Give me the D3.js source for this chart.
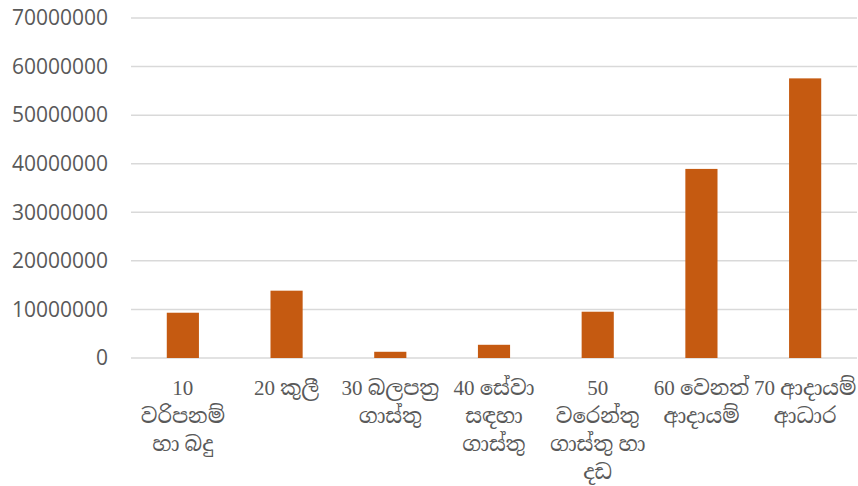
<!DOCTYPE html>
<html>
<head>
<meta charset="utf-8">
<script src="https://cdn.jsdelivr.net/npm/d3@7"></script>
<style>
    body { margin: 0; background: #fff; }
</style>
</head>
<body>
<svg id="chart" width="858" height="486"></svg>
<script>
// category labels, one entry per wrapped line
const categories = ['c10', 'c20', 'c30', 'c40', 'c50', 'c60', 'c70'];
const categoryLines = [
    ['10', 'වරිපනම්', 'හා බදු'],
    ['20 කුලී'],
    ['30 බලපත්‍ර', 'ගාස්තු'],
    ['40 සේවා', 'සඳහා', 'ගාස්තු'],
    ['50', 'වරෙන්තු', 'ගාස්තු හා', 'දඩ'],
    ['60 වෙනත්', 'ආදායම්'],
    ['70 ආදායම්', 'ආධාර']
];
const values = [9320000, 13860000, 1280000, 2720000, 9530000, 38930000, 57570000];
const yTicks = [0, 10000000, 20000000, 30000000, 40000000, 50000000, 60000000, 70000000];

const margin = { top: 18, right: 1, bottom: 128, left: 131 };
const width = 858 - margin.left - margin.right;
const height = 486 - margin.top - margin.bottom;

const svg = d3.select('#chart')
    .append('g')
    .attr('transform', 'translate(' + margin.left + ',' + margin.top + ')');

const x = d3.scaleBand()
    .domain(categories)
    .range([0, width])
    .paddingInner(0.69)
    .paddingOuter(0.345);

const y = d3.scaleLinear()
    .domain([0, 70000000])
    .range([height, 0]);

// gridlines
svg.append('g')
    .selectAll('line')
    .data(yTicks)
    .enter()
    .append('line')
    .attr('x1', 0)
    .attr('x2', width)
    .attr('y1', d => y(d))
    .attr('y2', d => y(d))
    .attr('stroke', '#d9d9d9')
    .attr('stroke-width', 1.5);

// y axis labels
const yAxis = svg.append('g')
    .call(d3.axisLeft(y).tickValues(yTicks).tickFormat(d3.format('d')).tickSize(0).tickPadding(23));
yAxis.select('.domain').remove();
yAxis.selectAll('text')
    .style('font-family', '"Open Sans", sans-serif')
    .style('font-size', '21px')
    .attr('fill', '#595959');

// bars
svg.selectAll('.bar')
    .data(values)
    .enter()
    .append('rect')
    .attr('class', 'bar')
    .attr('x', (d, i) => x(categories[i]))
    .attr('y', d => y(d))
    .attr('width', x.bandwidth())
    .attr('height', d => height - y(d))
    .attr('fill', '#c55a11');

// x axis labels
const xAxis = svg.append('g')
    .attr('transform', 'translate(0,' + height + ')')
    .call(d3.axisBottom(x).tickSize(0).tickFormat(''));
xAxis.select('.domain').remove();

xAxis.selectAll('.tick')
    .each(function(d, i) {
        const t = d3.select(this).append('text')
            .attr('text-anchor', 'middle')
            .attr('fill', '#595959')
            .style('font-family', '"Liberation Serif", "Noto Serif Sinhala", "Noto Sans Sinhala", serif')
            .style('font-size', '21px');
        categoryLines[i].forEach((line, j) => {
            t.append('tspan')
                .attr('x', 0)
                .attr('y', 37 + j * 28)
                .text(line);
        });
    });
</script>
</body>
</html>
